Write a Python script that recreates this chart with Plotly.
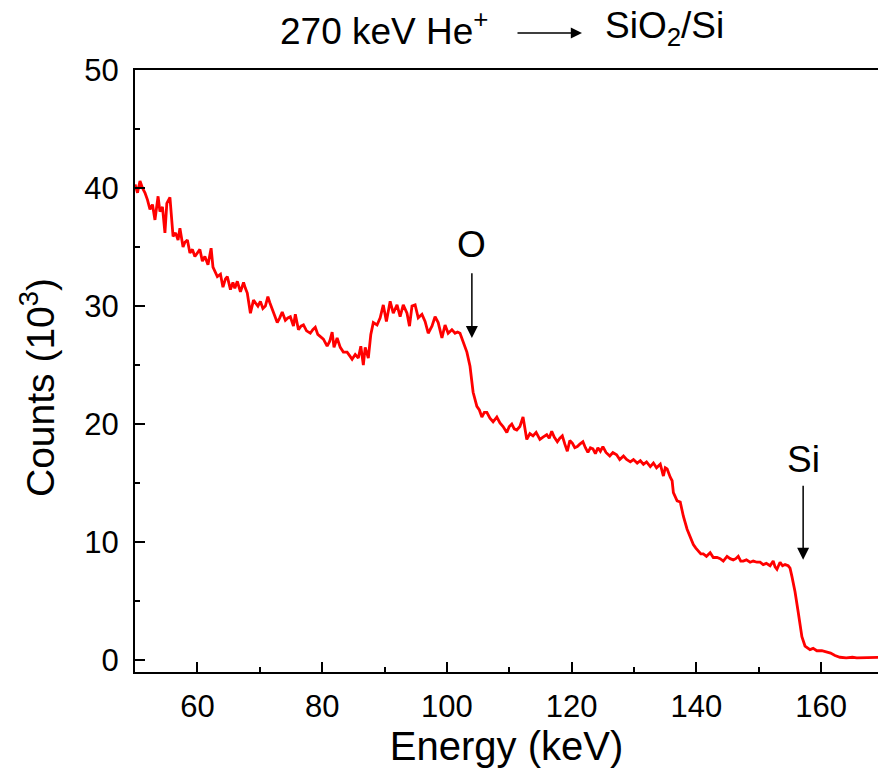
import plotly.graph_objects as go

energy = [50.0, 50.4, 50.8, 51.2, 51.6, 52.0, 52.4, 52.8, 53.2, 53.7, 54.0, 54.4, 54.8, 55.1, 55.6,
          56.1, 56.5, 56.9, 57.2, 57.7, 58.0, 58.4, 58.8, 59.2, 59.6, 60.0, 60.4, 60.8, 61.2, 61.7,
          62.2, 62.5, 62.8, 63.2, 63.7, 64.1, 64.5, 64.8, 65.3, 65.7, 66.0, 66.4, 66.9, 67.4, 67.7,
          68.0, 68.5, 69.0, 69.4, 69.7, 70.1, 70.5, 70.9, 71.3, 71.6, 72.0, 72.4, 72.8, 73.2, 73.6,
          74.1, 74.5, 74.9, 75.2, 75.4, 75.7, 76.2, 76.6, 77.0, 77.5, 78.1, 78.5, 78.9, 79.3, 79.7,
          80.2, 80.8, 81.2, 81.6, 81.9, 82.4, 82.9, 83.4, 84.0, 84.4, 84.8, 85.3, 85.8, 86.2, 86.6,
          86.9, 87.4, 87.8, 88.2, 88.8, 89.3, 89.8, 90.3, 90.9, 91.4, 92.0, 92.5, 93.0, 93.6, 94.0,
          94.4, 94.9, 95.4, 96.0, 96.5, 97.0, 97.6, 98.1, 98.6, 99.2, 99.7, 100.2, 100.8, 101.3, 101.7,
          102.1, 102.6, 103.2, 103.7, 104.2, 104.8, 105.2, 105.6, 106.0, 106.4, 106.9, 107.4, 108.0, 108.5, 109.0,
          109.6, 110.0, 110.4, 110.8, 111.2, 111.7, 112.2, 112.8, 113.3, 113.8, 114.3, 114.9, 115.4, 116.0, 116.4,
          116.8, 117.2, 117.7, 118.1, 118.5, 118.9, 119.3, 119.7, 120.1, 120.5, 120.9, 121.3, 121.8, 122.2, 122.6,
          123.0, 123.4, 123.8, 124.2, 124.6, 125.0, 125.5, 126.1, 126.6, 127.2, 127.7, 128.3, 128.8, 129.4, 129.9,
          130.5, 131.0, 131.5, 132.0, 132.6, 133.1, 133.6, 134.2, 134.7, 135.0, 135.3, 135.8, 136.1, 136.3, 136.9,
          137.4, 137.9, 138.5, 139.0, 139.5, 139.9, 140.3, 140.7, 141.1, 141.6, 142.2, 142.7, 143.3, 143.8, 144.3,
          144.9, 145.4, 145.9, 146.3, 146.7, 147.1, 147.5, 148.0, 148.6, 149.1, 149.7, 150.2, 150.7, 151.2, 151.8,
          152.3, 152.6, 152.9, 153.4, 153.8, 154.2, 154.7, 155.0, 155.3, 155.8, 156.3, 156.9, 157.4, 158.2, 158.7,
          159.3, 160.1, 160.9, 161.5, 162.2, 163.0, 164.0, 165.0, 165.7, 166.5, 167.5, 168.3, 169.0, 170.0]

counts = [40.3, 39.6, 40.6, 40.0, 39.6, 39.0, 38.2, 38.6, 37.3, 39.3, 38.0, 38.4, 36.2, 38.7, 39.2,
          35.9, 36.2, 35.6, 36.6, 35.0, 35.4, 35.6, 34.5, 34.8, 34.2, 34.5, 34.8, 33.8, 34.2, 33.5,
          34.9, 33.3, 33.0, 32.5, 32.7, 31.6, 32.3, 32.5, 31.4, 32.0, 31.5, 32.1, 31.2, 32.0, 31.5,
          31.1, 29.4, 30.5, 30.2, 30.0, 30.4, 29.8, 30.0, 30.8, 30.3, 29.7, 29.2, 28.6, 29.0, 29.5,
          28.8, 29.0, 29.1, 28.6, 28.3, 29.3, 28.0, 28.3, 28.4, 27.9, 27.7, 28.0, 28.2, 27.6, 27.4,
          27.2, 26.6, 27.0, 27.8, 26.5, 27.3, 26.5, 26.1, 26.1, 25.8, 25.5, 25.9, 25.6, 26.6, 25.0,
          26.5, 25.6, 27.6, 28.6, 28.4, 29.0, 30.1, 28.7, 30.4, 29.4, 30.1, 29.1, 30.1, 29.4, 28.3,
          30.0, 30.1, 29.0, 29.3, 28.7, 27.7, 28.3, 29.1, 28.6, 27.3, 28.4, 27.7, 28.0, 27.7, 27.8,
          27.7, 27.0, 26.1, 24.9, 22.7, 21.5, 21.2, 20.6, 21.0, 21.0, 20.5, 20.2, 20.6, 20.1, 19.8,
          19.3, 19.8, 20.0, 19.6, 19.5, 19.8, 20.6, 18.7, 19.2, 19.0, 19.3, 18.7, 18.9, 19.1, 18.8,
          19.4, 18.9, 18.5, 18.8, 19.0, 18.3, 17.7, 18.6, 18.4, 18.0, 18.1, 18.3, 18.5, 18.0, 17.6,
          18.0, 17.9, 17.5, 18.0, 17.7, 18.1, 17.6, 17.3, 17.6, 17.4, 17.0, 17.3, 17.0, 16.8, 17.0,
          16.7, 16.9, 16.6, 16.8, 16.4, 16.7, 16.3, 16.6, 15.6, 16.3, 16.2, 15.5, 15.2, 14.2, 13.5,
          13.4, 12.2, 11.1, 10.4, 9.8, 9.5, 9.2, 9.0, 9.0, 8.8, 9.1, 8.7, 8.7, 8.6, 8.4,
          8.8, 8.6, 8.5, 8.6, 8.8, 8.4, 8.4, 8.5, 8.3, 8.4, 8.3, 8.3, 8.1, 8.2, 8.0,
          8.4, 7.9, 7.7, 8.3, 8.0, 8.1, 8.0, 7.8, 7.1, 5.8, 4.1, 2.0, 1.2, 0.9, 1.0,
          0.8, 0.8, 0.7, 0.6, 0.4, 0.25, 0.2, 0.25, 0.2, 0.22, 0.2, 0.25, 0.25, 0.25]

x_ticks = [60, 80, 100, 120, 140, 160]
y_ticks = [0, 10, 20, 30, 40, 50]

# element labels with arrows: (label, energy, arrow tail, arrow tip, label y)
markers = [("O", 104.0, 32.9, 27.3, 35.2), ("Si", 157.1, 14.9, 8.5, 17.0)]

FONT = "Liberation Sans, Arial, sans-serif"

fig = go.Figure()
fig.add_trace(go.Scatter(x=energy, y=counts, mode="lines",
                         line=dict(color="#ff0000", width=2.8), showlegend=False))

axis_common = dict(showline=True, linecolor="black", linewidth=2, ticks="inside",
                   ticklen=10, tickwidth=2, tickcolor="black", showgrid=False, zeroline=False,
                   tickfont=dict(family=FONT, size=31, color="black"))

fig.update_xaxes(range=[50, 169.1], tickvals=x_ticks, mirror=True,
                 minor=dict(ticks="inside", ticklen=5, tickwidth=2, dtick=10, tick0=50, tickcolor="black"),
                 title=dict(text="Energy (keV)", font=dict(family=FONT, size=40, color="black"), standoff=3),
                 ticklabelstandoff=6,
                 **axis_common)
fig.update_yaxes(range=[-1, 50], tickvals=y_ticks,
                 minor=dict(ticks="inside", ticklen=5, tickwidth=2, dtick=5, tick0=0, tickcolor="black"),
                 ticklabelstandoff=8,
                 **axis_common)

# y-axis title
fig.add_annotation(x=(37 - 135) / 743, y=(672 - 388) / 602, xref="paper", yref="paper",
                   text="Counts (10<sup>3</sup>)", textangle=-90, showarrow=False,
                   xanchor="center", yanchor="middle",
                   font=dict(family=FONT, size=39, color="black"))

for label, e, tail, tip, ly in markers:
    fig.add_annotation(x=e, y=tip, ax=e, ay=tail, xref="x", yref="y", axref="x", ayref="y",
                       text="", showarrow=True, arrowhead=2, arrowsize=1.6, arrowwidth=1.5,
                       arrowcolor="black")
    fig.add_annotation(x=e, y=ly, xref="x", yref="y", text=label, showarrow=False,
                       font=dict(family=FONT, size=37, color="black"))

# title: left part, arrow, right part (paper coordinates)
fig.add_annotation(x=(384 - 135) / 743, y=(672 - 28) / 602, xref="paper", yref="paper",
                   text="270 keV He<sup>+</sup>", showarrow=False, xanchor="center", yanchor="middle",
                   font=dict(family=FONT, size=37, color="black"))
fig.add_annotation(x=(582 - 135) / 743, y=(672 - 33) / 602, ax=-66, ay=0,
                   xref="paper", yref="paper",
                   text="", showarrow=True, arrowhead=2, arrowsize=1.4, arrowwidth=1.6, arrowcolor="black")
fig.add_annotation(x=(664 - 135) / 743, y=(672 - 28) / 602, xref="paper", yref="paper",
                   text="SiO<sub>2</sub>/Si", showarrow=False, xanchor="center", yanchor="middle",
                   font=dict(family=FONT, size=37, color="black"))

fig.update_layout(width=878, height=773, margin=dict(l=135, r=0, t=70, b=101),
                  paper_bgcolor="white", plot_bgcolor="white",
                  font=dict(family=FONT, color="black"))

fig.write_html("out.html")
